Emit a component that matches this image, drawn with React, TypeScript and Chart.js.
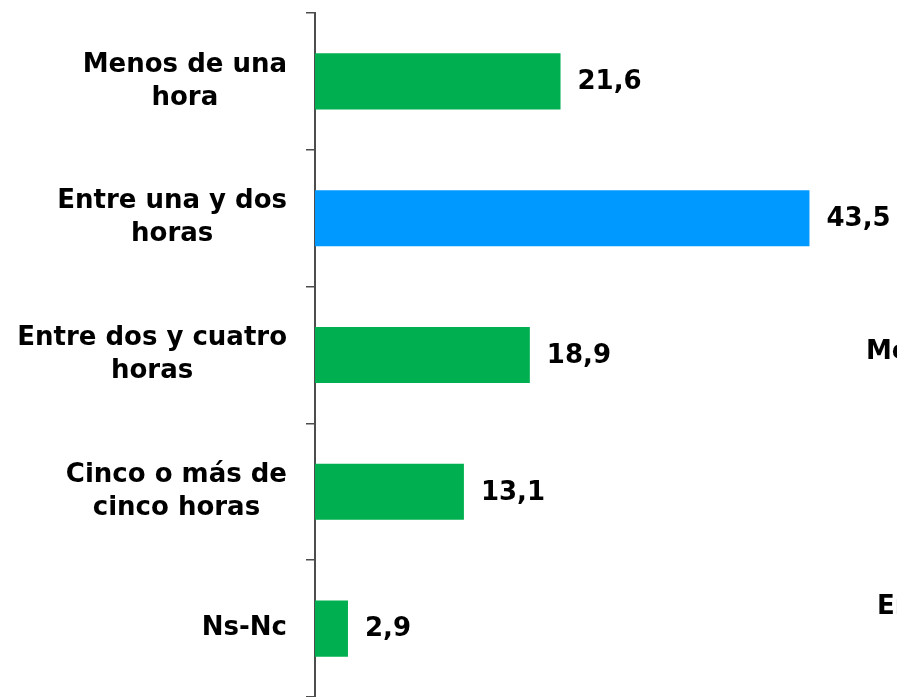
import React, { useEffect, useRef } from "react";
import { Chart, registerables } from "chart.js";

Chart.register(...registerables);

const categories: string[][] = [
  ["Menos de una", "hora"],
  ["Entre una y dos", "horas"],
  ["Entre dos y cuatro", "horas"],
  ["Cinco o más de", "cinco horas"],
  ["Ns-Nc"],
];
const values: number[] = [21.6, 43.5, 18.9, 13.1, 2.9];
const barColors: string[] = ["#00B050", "#0099FF", "#00B050", "#00B050", "#00B050"];
const clippedTexts: string[] = ["Menos de una hora", "Entre una y dos horas"];

const FONT = "'DejaVu Sans', Verdana, sans-serif";
const FONT_SIZE = 26;
const LINE_H = 33;

const valueLabels = {
  id: "valueLabels",
  afterDatasetsDraw(chart: any) {
    const ctx = chart.ctx;
    const meta = chart.getDatasetMeta(0);
    ctx.save();
    ctx.font = `bold ${FONT_SIZE}px ${FONT}`;
    ctx.fillStyle = "#000";
    ctx.textAlign = "left";
    ctx.textBaseline = "middle";
    meta.data.forEach((el: any, i: number) => {
      const txt = values[i].toFixed(1).replace(".", ",");
      ctx.fillText(txt, el.x + 17, el.y + 1);
    });
    ctx.restore();
  },
};

const categoryLabels = {
  id: "categoryLabels",
  afterDraw(chart: any) {
    const ctx = chart.ctx;
    const y = chart.scales.y;
    const rightEdge = y.right - 28;
    ctx.save();
    ctx.font = `bold ${FONT_SIZE}px ${FONT}`;
    ctx.fillStyle = "#000";
    ctx.textAlign = "center";
    ctx.textBaseline = "middle";
    categories.forEach((lines, i) => {
      const cy = y.getPixelForTick(i);
      const w = Math.max(...lines.map((l) => ctx.measureText(l).width));
      const cx = rightEdge - w / 2;
      const top = cy - ((lines.length - 1) * LINE_H) / 2;
      lines.forEach((l, j) => ctx.fillText(l, cx, top + j * LINE_H));
    });
    ctx.restore();
  },
};

const sideTexts = {
  id: "sideTexts",
  afterDraw(chart: any) {
    const ctx = chart.ctx;
    ctx.save();
    ctx.font = `bold ${FONT_SIZE}px ${FONT}`;
    ctx.fillStyle = "#000";
    ctx.textAlign = "left";
    ctx.textBaseline = "middle";
    ctx.fillText(clippedTexts[0], 866, 352);
    ctx.fillText(clippedTexts[1], 877, 607);
    ctx.restore();
  },
};

export default function App() {
  const ref = useRef<HTMLCanvasElement | null>(null);
  useEffect(() => {
    if (!ref.current) return;
    const chart = new Chart(ref.current, {
      type: "bar",
      data: {
        labels: categories,
        datasets: [
          {
            data: values,
            backgroundColor: barColors,
            borderWidth: 0,
            categoryPercentage: 1,
            barPercentage: 0.41,
          },
        ],
      },
      options: {
        indexAxis: "y",
        animation: false,
        responsive: false,
        maintainAspectRatio: false,
        layout: { padding: { top: 13, bottom: 0, left: 0, right: 0 } },
        plugins: {
          legend: { display: false },
          tooltip: { enabled: false },
        },
        scales: {
          x: {
            display: false,
            min: 0,
            max: 51.2,
          },
          y: {
            afterFit: (scale: any) => {
              scale.width = 315;
              scale.paddingTop = 0;
              scale.paddingBottom = 0;
            },
            grid: {
              display: true,
              drawOnChartArea: false,
              drawTicks: true,
              tickLength: 9,
              color: "#4d4d4d",
              lineWidth: 1.5,
              offset: true,
            },
            border: { display: true, color: "#4d4d4d", width: 2 },
            ticks: {
              display: false,
            },
          },
        },
      },
      plugins: [valueLabels, categoryLabels, sideTexts],
    } as any);
    return () => chart.destroy();
  }, []);
  return (
    <div style={{ position: "fixed", left: 0, top: 0, width: 897, height: 697, background: "#fff" }}>
      <canvas ref={ref} width={897} height={697} />
    </div>
  );
}
